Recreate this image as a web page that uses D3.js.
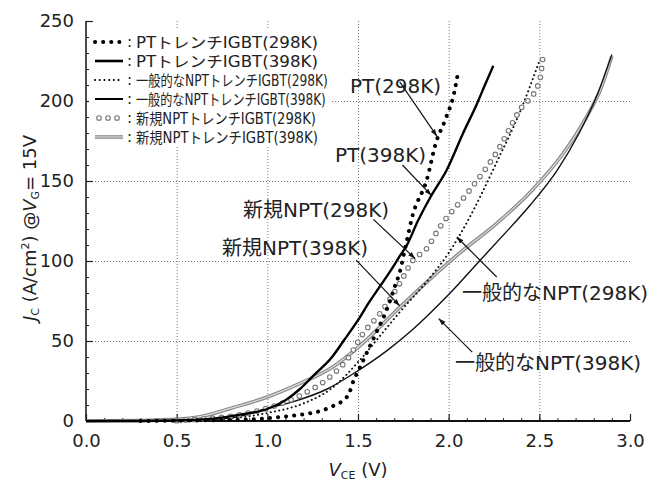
<!DOCTYPE html>
<html><head><meta charset="utf-8">
<script src="https://cdn.jsdelivr.net/npm/d3@7/dist/d3.min.js"></script>
<style>
body{margin:0;background:#fff}
svg{display:block}
text{font-family:"DejaVu Sans","Noto Sans CJK JP",sans-serif;fill:#222}
</style></head>
<body><svg id="c" width="649" height="486"></svg>
<script>
// ---- data (V_CE [V], J_C [A/cm2]) ----
const ptTrench298 = [[0.3,0],[0.5,0.2],[0.7,0.5],[0.9,1],[1.0,1.7],[1.1,2.8],[1.2,4.2],[1.3,6.5],[1.37,9.8],[1.42,13],[1.45,17],[1.475,25],[1.5,31],[1.55,43],[1.6,55],[1.66,70],[1.7,83],[1.73,93],[1.76,108],[1.8,128],[1.88,151],[1.93,174],[1.98,188],[2.03,205],[2.055,220]];
const ptTrench398 = [[0,0],[0.3,0],[0.5,0.3],[0.7,1.5],[0.85,4],[1.0,7.5],[1.1,13],[1.18,20],[1.26,29],[1.35,39],[1.42,50],[1.5,63],[1.56,74],[1.62,84],[1.68,94],[1.73,103],[1.77,110],[1.83,125],[1.9,140],[1.99,157],[2.08,180],[2.155,198],[2.2,210],[2.246,222]];
const genNpt298 = [[0.5,0],[0.7,0.8],[0.9,3],[1.0,5],[1.2,11],[1.35,20],[1.51,38],[1.62,53],[1.73,68],[1.9,90],[2.0,105],[2.1,124],[2.27,163],[2.4,195],[2.5,225]];
const genNpt398 = [[0,0],[0.55,0],[0.7,1],[0.85,3],[1.0,8],[1.14,12],[1.33,20],[1.48,30],[1.66,44],[1.8,57],[2.0,79],[2.17,100],[2.3,116],[2.45,135],[2.6,157],[2.72,180],[2.82,204],[2.9,229]];
const newNpt298 = [[0.5,0.2],[0.6,1],[0.8,3],[1.0,8],[1.2,17],[1.35,28],[1.45,40],[1.53,55],[1.62,67],[1.73,86],[1.8,100],[1.88,108],[1.95,121],[2.1,142],[2.27,169],[2.39,194],[2.5,212],[2.52,228]];
const newNpt398 = [[0,0],[0.3,0.3],[0.5,1],[0.63,2.7],[0.8,8],[1.0,15],[1.18,23.5],[1.35,33],[1.51,47],[1.73,71],[1.9,89],[2.05,104],[2.27,124],[2.45,143],[2.63,167],[2.75,188],[2.84,208],[2.9,228]];

const legendLabels = ["PTトレンチIGBT(298K)","PTトレンチIGBT(398K)","一般的なNPTトレンチIGBT(298K)","一般的なNPTトレンチIGBT(398K)","新規NPTトレンチIGBT(298K)","新規NPTトレンチIGBT(398K)"];
const legendWidths = [182,182,192,190,180,182];
const xTickValues = [0,0.5,1.0,1.5,2.0,2.5,3.0];
const yTickValues = [0,50,100,150,200,250];
const annotations = [
  {text:"PT(298K)", tx:350, ty:93, p:[[1.73,212],[1.935,178]]},
  {text:"PT(398K)", tx:335, ty:162, p:[[1.745,160],[1.905,141]]},
  {text:"新規NPT(298K)", tx:243, ty:217, p:[[1.585,126],[1.815,101.5]]},
  {text:"新規NPT(398K)", tx:222, ty:255, p:[[1.49,100.5],[1.73,72]]},
  {text:"一般的なNPT(298K)", tx:462, ty:300, p:[[2.265,90],[2.045,115]]},
  {text:"一般的なNPT(398K)", tx:455, ty:370, p:[[2.13,43],[1.945,64]]}
];

// ---- layout ----
const svg = d3.select("#c");
const x = d3.scaleLinear().domain([0,3]).range([86,630]);
const y = d3.scaleLinear().domain([0,250]).range([421,21]);
const line = d3.line().x(d=>x(d[0])).y(d=>y(d[1])).curve(d3.curveMonotoneX);

// grid
const grid = svg.append("g").attr("stroke","#777").attr("stroke-width",1).attr("stroke-dasharray","1,2");
xTickValues.filter(v=>v>0 && v<3).forEach(v=>grid.append("line").attr("x1",x(v)+0.5).attr("x2",x(v)+0.5).attr("y1",y(250)).attr("y2",y(0)));
yTickValues.filter(v=>v>0 && v<250).forEach(v=>grid.append("line").attr("x1",x(0)).attr("x2",x(3)).attr("y1",y(v)+0.5).attr("y2",y(v)+0.5));

// axes
const xAxis = d3.axisBottom(x).tickValues(d3.range(0,3.001,0.1)).tickSize(-3).tickFormat("");
svg.append("g").attr("transform",`translate(0,${y(0)})`).call(xAxis).call(g=>{g.select(".domain").remove();g.selectAll("line").attr("stroke","#222");});
svg.append("g").attr("transform",`translate(0,${y(0)})`).call(d3.axisBottom(x).tickValues(xTickValues).tickSize(-7).tickFormat(d3.format(".1f")).tickPadding(12))
  .call(g=>{g.select(".domain").remove();g.selectAll("line").attr("stroke","#222").attr("stroke-width",1.2);g.selectAll("text").attr("font-size",18).attr("fill","#222").attr("dy","0.75em");});
const yAxisMinor = d3.axisLeft(y).tickValues(d3.range(0,250.1,10)).tickSize(-3).tickFormat("");
svg.append("g").attr("transform",`translate(${x(0)},0)`).call(yAxisMinor).call(g=>{g.select(".domain").remove();g.selectAll("line").attr("stroke","#222");});
svg.append("g").attr("transform",`translate(${x(0)},0)`).call(d3.axisLeft(y).tickValues(yTickValues).tickSize(-7).tickPadding(12))
  .call(g=>{g.select(".domain").remove();g.selectAll("line").attr("stroke","#222").attr("stroke-width",1.2);g.selectAll("text").attr("font-size",18).attr("fill","#222");});
svg.append("line").attr("x1",x(0)).attr("x2",x(3)).attr("y1",y(0)).attr("y2",y(0)).attr("stroke","#111").attr("stroke-width",2);
svg.append("line").attr("x1",x(0)).attr("x2",x(0)).attr("y1",y(0)).attr("y2",y(250)).attr("stroke","#111").attr("stroke-width",1.5);

// legend background
svg.append("rect").attr("x",x(0)+3).attr("y",28).attr("width",242).attr("height",118).attr("fill","#fff");

// curves
const curves = svg.append("g");
function drawNewNpt398(g, d, gen){
  g.append("path").attr("d",gen(d)).attr("fill","none").attr("stroke","#8a8a8a").attr("stroke-width",3.6);
  g.append("path").attr("d",gen(d)).attr("fill","none").attr("stroke","#dcdcdc").attr("stroke-width",1.2);
}
function drawCircles(g, pathD, spacing){
  const tmp = g.append("path").attr("d",pathD).attr("fill","none").attr("stroke","none");
  const node = tmp.node(); const L = node.getTotalLength();
  for(let s=0;s<=L;s+=spacing){const p=node.getPointAtLength(s);
    g.append("circle").attr("cx",p.x).attr("cy",p.y).attr("r",2.3).attr("fill","#fff").attr("stroke","#777").attr("stroke-width",1.1);}
  tmp.remove();
}
drawNewNpt398(curves, newNpt398, line);
curves.append("path").attr("d",line(genNpt398)).attr("fill","none").attr("stroke","#111").attr("stroke-width",1.4);
curves.append("path").attr("d",line(genNpt298)).attr("fill","none").attr("stroke","#111").attr("stroke-width",2).attr("stroke-linecap","round").attr("stroke-dasharray","0.1,4.2");
drawCircles(curves.append("g"), line(newNpt298), 9);
curves.append("path").attr("d",line(ptTrench398)).attr("fill","none").attr("stroke","#000").attr("stroke-width",2.4);
curves.append("path").attr("d",line(ptTrench298)).attr("fill","none").attr("stroke","#000").attr("stroke-width",4).attr("stroke-linecap","round").attr("stroke-dasharray","0.1,8");

// legend
const lg = svg.append("g");
const rowY = i => 42 + i*19;
const sx0 = 95, sx1 = 123;
legendLabels.forEach((t,i)=>{
  const yy = rowY(i);
  if(i===0) lg.append("line").attr("x1",sx0).attr("x2",sx1).attr("y1",yy).attr("y2",yy).attr("stroke","#000").attr("stroke-width",4).attr("stroke-linecap","round").attr("stroke-dasharray","0.1,8");
  if(i===1) lg.append("line").attr("x1",sx0).attr("x2",sx1).attr("y1",yy).attr("y2",yy).attr("stroke","#000").attr("stroke-width",2.6);
  if(i===2) lg.append("line").attr("x1",sx0).attr("x2",sx1).attr("y1",yy).attr("y2",yy).attr("stroke","#000").attr("stroke-width",2).attr("stroke-linecap","round").attr("stroke-dasharray","0.1,4.6");
  if(i===3) lg.append("line").attr("x1",sx0).attr("x2",sx1).attr("y1",yy).attr("y2",yy).attr("stroke","#000").attr("stroke-width",2);
  if(i===4) [0,1,2].forEach(k=>lg.append("circle").attr("cx",sx0+4+k*9).attr("cy",yy).attr("r",2.3).attr("fill","#fff").attr("stroke","#777").attr("stroke-width",1.1));
  if(i===5){ lg.append("line").attr("x1",sx0).attr("x2",sx1).attr("y1",yy).attr("y2",yy).attr("stroke","#8a8a8a").attr("stroke-width",3.6);
             lg.append("line").attr("x1",sx0).attr("x2",sx1).attr("y1",yy).attr("y2",yy).attr("stroke","#dcdcdc").attr("stroke-width",1.2);}
  lg.append("text").attr("x",127).attr("y",yy+5).attr("font-size",15).text(":");
  const tx = lg.append("text").attr("x",0).attr("y",0).attr("font-size",15).text(t);
  const w = tx.node().getComputedTextLength();
  tx.attr("transform",`translate(136,${yy+5.5}) scale(${legendWidths[i]/w},1)`);
});

// annotations
svg.append("defs").append("marker").attr("id","ah").attr("viewBox","0 0 10 10").attr("refX",10).attr("refY",5)
  .attr("markerWidth",7).attr("markerHeight",7).attr("orient","auto-start-reverse").attr("markerUnits","userSpaceOnUse")
  .append("path").attr("d","M0,1.5L10,5L0,8.5Z").attr("fill","#111");
annotations.forEach(a=>{
  svg.append("text").attr("x",a.tx).attr("y",a.ty).attr("font-size",20).text(a.text);
  svg.append("line").attr("x1",x(a.p[0][0])).attr("y1",y(a.p[0][1])).attr("x2",x(a.p[1][0])).attr("y2",y(a.p[1][1]))
    .attr("stroke","#111").attr("stroke-width",1.2).attr("marker-end","url(#ah)");
});

// axis titles
const xt = svg.append("text").attr("x",358).attr("y",476).attr("text-anchor","middle").attr("font-size",18);
xt.append("tspan").attr("font-style","italic").text("V");
xt.append("tspan").attr("font-size",11).attr("dy",3).text("CE");
xt.append("tspan").attr("dy",-3).text(" (V)");
const yt = svg.append("text").attr("transform","translate(36,228) rotate(-90)").attr("text-anchor","middle").attr("font-size",18);
yt.append("tspan").attr("font-style","italic").text("J");
yt.append("tspan").attr("font-size",11).attr("dy",3).text("C");
yt.append("tspan").attr("dy",-3).text(" (A/cm");
yt.append("tspan").attr("font-size",11).attr("dy",-7).text("2");
yt.append("tspan").attr("dy",7).text(")  @");
yt.append("tspan").attr("font-style","italic").text("V");
yt.append("tspan").attr("font-size",11).attr("dy",3).text("G");
yt.append("tspan").attr("dy",-3).text("= 15V");
</script></body></html>
